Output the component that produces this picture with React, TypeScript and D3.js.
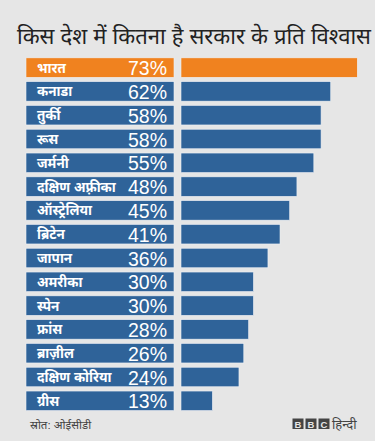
import React from "react";
import * as d3 from "d3";

const countries = ["भारत", "कनाडा", "तुर्की", "रूस", "जर्मनी", "दक्षिण अफ़्रीका", "ऑस्ट्रेलिया", "ब्रिटेन", "जापान", "अमरीका", "स्पेन", "फ्रांस", "ब्राज़ील", "दक्षिण कोरिया", "ग्रीस"];
const trust = [73, 62, 58, 58, 55, 48, 45, 41, 36, 30, 30, 28, 26, 24, 13];
const highlight = ["भारत"];

const W = 375, H = 441;
const FONT = "'Liberation Sans', Arial, 'Noto Sans', sans-serif";

export default function App() {
  const y = d3.scaleBand<string>().domain(countries).range([55.7, 55.7 + 23.8 * 15]).paddingInner(0.18).paddingOuter(0.09);
  const x = d3.scaleLinear().domain([0, 73]).range([181, 357.3]);
  const orange = "#f0821f";
  const blue = "#2f6399";
  return (
    <svg width={W} height={H} style={{ position: "absolute", left: 0, top: 0, background: "#e6e6e6" }}>
      <rect width={W} height={H} fill="#e6e6e6" />
      <text x={17} y={44} fontSize={22} fill="#222" fontFamily={FONT} textLength={354} lengthAdjust="spacingAndGlyphs">
        किस देश में कितना है सरकार के प्रति विश्वास
      </text>
      {countries.map((c, i) => {
        const yy = y(c)!;
        const h = y.bandwidth();
        const col = highlight.includes(c) ? orange : blue;
        return (
          <g key={c}>
            <rect x={26} y={yy} width={148} height={h} fill={col} stroke="#eef1f5" strokeWidth={0.6} />
            <rect x={x(0)} y={yy} width={x(trust[i]) - x(0)} height={h} fill={col} stroke="#eef1f5" strokeWidth={0.6} />
            <text x={37} y={yy + h / 2 + 5} fontSize={13.5} fontWeight="bold" fill="#fff" fontFamily={FONT}>{c}</text>
            <text x={167} y={yy + h / 2 + 7.5} textAnchor="end" fontSize={20.5} fill="#fff" fontFamily={FONT} textLength={39} lengthAdjust="spacingAndGlyphs">{trust[i]}%</text>
          </g>
        );
      })}
      <text x={30} y={429} fontSize={11.5} fill="#444" fontFamily={FONT}>स्रोत: ओईसीडी</text>
      {["B", "B", "C"].map((l, i) => (
        <g key={i}>
          <rect x={292.5 + i * 13} y={418.5} width={11} height={10.5} fill="#444" />
          <text x={292.5 + i * 13 + 5.5} y={427.5} textAnchor="middle" fontSize={9.5} fontWeight="bold" fill="#e6e6e6" fontFamily={FONT}>{l}</text>
        </g>
      ))}
      <text x={332} y={428.5} fontSize={13} fill="#444" fontFamily={FONT}>हिन्दी</text>
    </svg>
  );
}
